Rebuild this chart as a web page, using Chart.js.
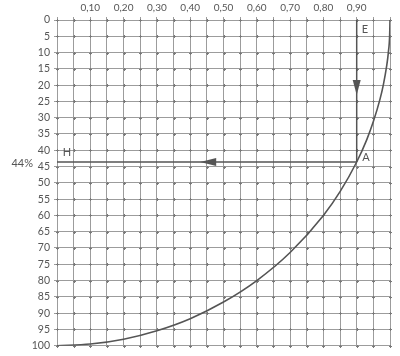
<!DOCTYPE html>
<html>
<head>
<meta charset="utf-8">
<script src="https://cdn.jsdelivr.net/npm/chart.js@4.4.0/dist/chart.umd.min.js"></script>
<style>
  html, body { margin: 0; padding: 0; background: #fff; }
  #wrap { width: 400px; height: 356px; position: relative; }
</style>
</head>
<body>
<div id="wrap"><canvas id="c"></canvas></div>
<script>
// 曲线读数 (x: 0..1, y: % 从上往下)
const curveX = [0, 0.1, 0.2, 0.3, 0.4, 0.5, 0.6, 0.7, 0.8, 0.85, 0.9, 0.93, 0.95, 0.97, 0.98, 0.99, 0.995, 0.999, 1.0];
const curveY = [100, 99.5, 98, 95.4, 91.7, 86.6, 80, 71.4, 60, 52.7, 43.6, 36.8, 31.2, 24.3, 19.9, 14.1, 10, 4.5, 0];

// 读数点 A
const pointA = [0.9, 43.6];
const readLabel = '44%';

const xTickLabels = ['0,10', '0,20', '0,30', '0,40', '0,50', '0,60', '0,70', '0,80', '0,90'];

const INK = '#555';
const GRID = '#9c9c9c';
const FONT = 'Lato, "DejaVu Sans", sans-serif';

// 箭头, 字母和网格交叉点
const extras = {
    id: 'extras',
    beforeDatasetsDraw(chart) {
        const { ctx, scales: { x, y } } = chart;
        ctx.save();
        ctx.strokeStyle = '#7a7a7a';
        ctx.lineWidth = 1;
        ctx.beginPath();
        for (let i = 0; i <= 20; i++) {
            const px = Math.round(x.getPixelForValue(i * 0.05)) + 0.5;
            for (let j = 0; j <= 20; j++) {
                const py = Math.round(y.getPixelForValue(j * 5)) + 0.5;
                ctx.moveTo(px - 1.5, py); ctx.lineTo(px + 1.5, py);
                ctx.moveTo(px, py - 1.5); ctx.lineTo(px, py + 1.5);
            }
        }
        ctx.stroke();
        ctx.restore();
    },
    afterDatasetsDraw(chart) {
        const { ctx, scales: { x, y } } = chart;
        ctx.save();
        ctx.fillStyle = INK;
        // 向下箭头
        let ax = x.getPixelForValue(pointA[0]);
        let ty = y.getPixelForValue(23);
        ctx.beginPath();
        ctx.moveTo(ax, ty);
        ctx.lineTo(ax - 4, ty - 15);
        ctx.lineTo(ax + 4, ty - 15);
        ctx.closePath();
        ctx.fill();
        // 向左箭头
        let tx = x.getPixelForValue(0.43);
        let ay = y.getPixelForValue(pointA[1]);
        ctx.beginPath();
        ctx.moveTo(tx, ay);
        ctx.lineTo(tx + 16, ay - 4);
        ctx.lineTo(tx + 16, ay + 4);
        ctx.closePath();
        ctx.fill();

        ctx.font = '11px ' + FONT;
        ctx.textBaseline = 'middle';
        ctx.textAlign = 'left';
        ctx.fillText('E', x.getPixelForValue(0.915), y.getPixelForValue(3));
        ctx.fillText('A', x.getPixelForValue(0.917), y.getPixelForValue(42.3));
        ctx.fillText('H', x.getPixelForValue(0.017), y.getPixelForValue(40.6));
        ctx.textAlign = 'right';
        ctx.fillText(readLabel, chart.chartArea.left - 24, y.getPixelForValue(pointA[1]) + 1);
        ctx.restore();
    }
};

new Chart(document.getElementById('c'), {
    type: 'scatter',
    data: {
        datasets: [{
            data: curveX.map((v, i) => ({ x: v, y: curveY[i] })),
            showLine: true,
            borderColor: INK,
            borderWidth: 1.6,
            pointRadius: 0,
            cubicInterpolationMode: 'monotone'
        }, {
            // E -> A
            data: [{ x: pointA[0], y: 0 }, { x: pointA[0], y: pointA[1] }],
            showLine: true,
            borderColor: INK,
            borderWidth: 1.5,
            pointRadius: 0
        }, {
            // A -> H
            data: [{ x: pointA[0], y: pointA[1] }, { x: 0, y: pointA[1] }],
            showLine: true,
            borderColor: INK,
            borderWidth: 1.5,
            pointRadius: 0
        }]
    },
    options: {
        responsive: true,
        maintainAspectRatio: false,
        animation: false,
        layout: { padding: { top: 0, left: 0, right: 10, bottom: 8 } },
        scales: {
            x: {
                type: 'linear',
                position: 'top',
                min: 0,
                max: 1,
                afterFit: s => { s.height = 20; },
                afterBuildTicks: s => {
                    s.ticks = [];
                    for (let i = 0; i <= 20; i++) s.ticks.push({ value: i * 0.05 });
                },
                ticks: {
                    autoSkip: false,
                    maxRotation: 0,
                    padding: 3,
                    color: INK,
                    font: { family: FONT, size: 10 },
                    callback: (v, i) => (i % 2 === 0 && i > 0 && i < 20) ? xTickLabels[i / 2 - 1] : ''
                },
                grid: { color: GRID, lineWidth: 1, tickLength: 3 },
                border: { color: GRID }
            },
            y: {
                type: 'linear',
                reverse: true,
                min: 0,
                max: 100,
                afterFit: s => { s.width = 57; },
                ticks: {
                    stepSize: 5,
                    autoSkip: false,
                    padding: 4,
                    color: INK,
                    font: { family: FONT, size: 10.5 }
                },
                grid: { color: GRID, lineWidth: 1, tickLength: 3 },
                border: { color: GRID }
            }
        },
        plugins: {
            legend: { display: false },
            tooltip: { enabled: false }
        }
    },
    plugins: [extras]
});
</script>
</body>
</html>
